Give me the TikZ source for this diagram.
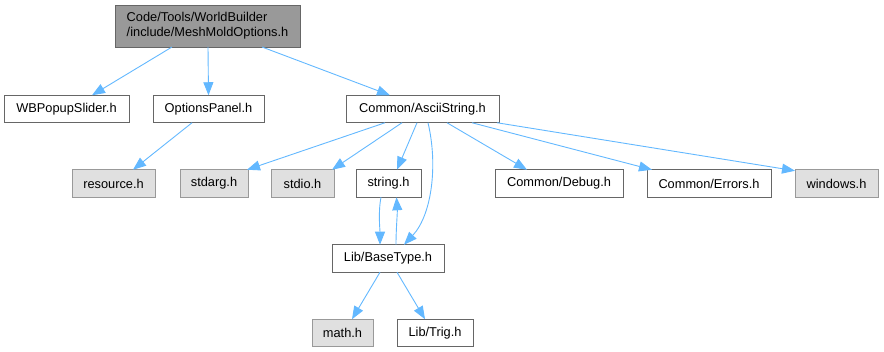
\documentclass[tikz,border=0pt]{standalone}
\usepackage{fontspec}
\setmainfont{Liberation Sans}
\usetikzlibrary{arrows.meta}
\definecolor{edgeblue}{HTML}{63B8FF}
\definecolor{boxline}{HTML}{666666}
\definecolor{sysline}{HTML}{999999}
\definecolor{sysfill}{HTML}{E0E0E0}
\definecolor{rootfill}{HTML}{999999}
\begin{document}
\begin{tikzpicture}[x=1pt,y=-1pt,
  box/.style={draw=boxline, fill=white, line width=0.8pt, minimum height=27.5pt,
    inner sep=0pt, outer sep=0pt, font=\fontsize{12.8}{15}\selectfont},
  sysbox/.style={box, draw=sysline, fill=sysfill},
  rootbox/.style={box, draw=boxline, fill=rootfill, align=left, minimum height=42pt},
  dep/.style={draw=edgeblue, line width=0.9pt, -{Triangle[length=13pt,width=10pt]}, edgeblue}]
\useasboundingbox (0,0) rectangle (884,352);

% nodes
\node[rootbox, minimum width=185pt] (root) at (207.5,26) {Code/Tools/WorldBuilder\\/include/MeshMoldOptions.h};

\node[box, minimum width=125pt] (wb) at (66.5,109) {WBPopupSlider.h};
\node[box, minimum width=111pt] (op) at (208.5,109) {OptionsPanel.h};
\node[box, minimum width=153pt] (ascii) at (422.5,109) {Common/AsciiString.h};

\node[sysbox, minimum width=83pt] (res) at (113.5,183.5) {resource.h};
\node[sysbox, minimum width=68pt] (stdarg) at (214,183.5) {stdarg.h};
\node[sysbox, minimum width=63pt] (stdio) at (302.5,183.5) {stdio.h};
\node[box, minimum width=65pt] (str) at (388.5,183.5) {string.h};
\node[box, minimum width=128pt] (dbg) at (559,183.5) {Common/Debug.h};
\node[box, minimum width=124pt] (err) at (709,183.5) {Common/Errors.h};
\node[sysbox, minimum width=83pt] (win) at (836.5,183.5) {windows.h};

\node[box, minimum width=112pt] (base) at (388,258.5) {Lib/BaseType.h};

\node[sysbox, minimum width=61pt] (math) at (342.5,333) {math.h};
\node[box, minimum width=76pt] (trig) at (435,333) {Lib/Trig.h};

% include edges
\draw[dep] ([xshift=-35.5pt]root.south) -- ([xshift=25.5pt]wb.north);
\draw[dep] ([xshift=0.5pt]root.south) -- (op.north);
\draw[dep] ([xshift=54.5pt]root.south) -- ([xshift=-32.5pt]ascii.north);

\draw[dep] ([xshift=-16.5pt]op.south) -- ([xshift=19.5pt]res.north);

\draw[dep] ([xshift=-37.5pt]ascii.south) -- ([xshift=33pt]stdarg.north);
\draw[dep] ([xshift=-20.5pt]ascii.south) -- ([xshift=29.5pt]stdio.north);
\draw[dep] ([xshift=-5.5pt]ascii.south) -- ([xshift=8.5pt]str.north);
\draw[dep] ([xshift=5.5pt]ascii.south) .. controls +(10,42) and +(28,-30) .. ([xshift=16pt]base.north);
\draw[dep] ([xshift=24.5pt]ascii.south) -- ([xshift=-32pt]dbg.north);
\draw[dep] ([xshift=49.5pt]ascii.south) -- ([xshift=-57pt]err.north);
\draw[dep] ([xshift=74.5pt]ascii.south) -- ([yshift=-1pt]win.north west);

\draw[dep] ([xshift=-7.5pt]str.south) .. controls +(-3,16) and +(0,-16) .. ([xshift=-8pt]base.north);
\draw[dep] ([xshift=8pt]base.north) .. controls +(0,-16) and +(1,16) .. ([xshift=8pt]str.south);

\draw[dep] ([xshift=-8pt]base.south) -- ([xshift=9.5pt]math.north);
\draw[dep] ([xshift=9pt]base.south) -- ([xshift=-10pt]trig.north);
\end{tikzpicture}
\end{document}
